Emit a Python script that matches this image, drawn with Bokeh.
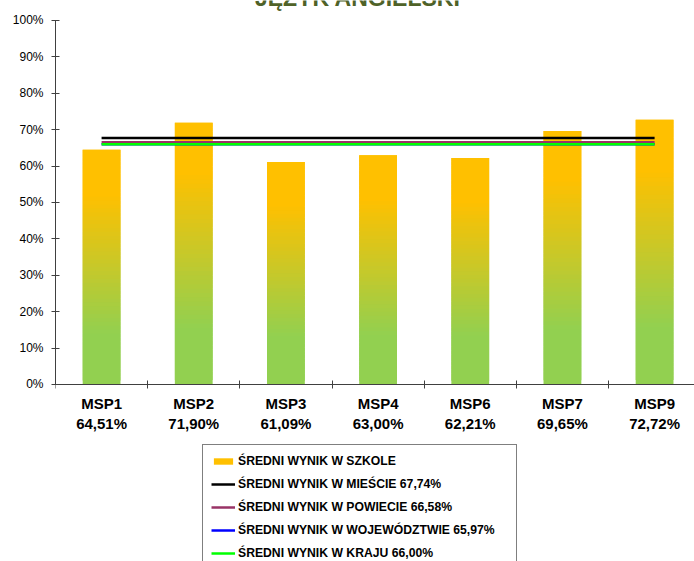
import numpy as np
from bokeh.plotting import figure
from bokeh.models import Range1d, FixedTicker, LinearAxis, Legend, LegendItem, Label, ColumnDataSource
from bokeh.embed import file_html
from bokeh.resources import INLINE

# ---------------- data ----------------
title_text = "JĘZYK ANGIELSKI"
categories = ["MSP1", "MSP2", "MSP3", "MSP4", "MSP6", "MSP7", "MSP9"]
school_scores = [64.51, 71.90, 61.09, 63.00, 62.21, 69.65, 72.72]
bar_legend_label = "ŚREDNI WYNIK W SZKOLE"
avg_names = ["ŚREDNI WYNIK W MIEŚCIE", "ŚREDNI WYNIK W POWIECIE",
             "ŚREDNI WYNIK W WOJEWÓDZTWIE", "ŚREDNI WYNIK W KRAJU"]
avg_values = [67.74, 66.58, 65.97, 66.00]
avg_colors = ["#000000", "#993366", "#0000FF", "#00FF00"]
y_ticks = [0, 10, 20, 30, 40, 50, 60, 70, 80, 90, 100]
y_tick_labels = ["0%", "10%", "20%", "30%", "40%", "50%", "60%", "70%", "80%", "90%", "100%"]

def pct(v):
    return f"{v:.2f}%".replace(".", ",")

x_centers = [i + 0.5 for i in range(len(categories))]
x_bounds = list(range(len(categories) + 1))
x_labels = {c: f"{cat}\n{pct(v)}" for c, cat, v in zip(x_centers, categories, school_scores)}

FONT = "Liberation Sans"
AXIS_COLOR = "#404040"

# ---------------- gradient bar segments ----------------
ORANGE = np.array([255, 192, 0], dtype=float)
GREEN = np.array([146, 208, 80], dtype=float)
N = 60
seg_x, seg_b, seg_t, seg_c = [], [], [], []
for xc, v in zip(x_centers, school_scores):
    edges = np.linspace(0.0, v, N + 1)
    step = edges[1] - edges[0]
    for j in range(N):
        f = (j + 0.5) / N
        t = min(max((f - 0.215) / (0.81 - 0.215), 0.0), 1.0)
        c = GREEN + (ORANGE - GREEN) * t
        seg_x.append(xc)
        seg_b.append(edges[j])
        seg_t.append(edges[j + 1] + (step if j < N - 1 else 0.0))
        seg_c.append("#%02x%02x%02x" % tuple(int(round(k)) for k in c))
bars_src = ColumnDataSource(dict(x=seg_x, bottom=seg_b, top=seg_t, color=seg_c))

# ---------------- figure ----------------
# frame spans the whole canvas height; 0 % sits at 384 px, 100 % at 20 px
p = figure(width=694, height=561, output_backend="svg", toolbar_location=None,
           x_range=Range1d(0, 6.933), y_range=Range1d(-48.63, 105.49),
           x_axis_type=None, y_axis_type=None,
           min_border_left=55, min_border_right=0, min_border_top=0, min_border_bottom=0)
p.outline_line_color = None
p.background_fill_color = "white"
p.border_fill_color = "white"
p.styles = {"margin": "0px"}

r_bars = p.vbar(x="x", bottom="bottom", top="top", width=0.41, source=bars_src,
                fill_color="color", line_color=None)

line_renderers = []
for v, col in zip(avg_values, avg_colors):
    r = p.line(x=[x_centers[0], x_centers[-1]], y=[v, v], line_color=col, line_width=2.5)
    line_renderers.append(r)

# axes
yaxis = LinearAxis(ticker=FixedTicker(ticks=y_ticks, minor_ticks=[]),
                   bounds=(y_ticks[0], y_ticks[-1]),
                   major_label_overrides={t: l for t, l in zip(y_ticks, y_tick_labels)},
                   major_tick_in=4, major_tick_out=4,
                   minor_tick_line_color=None,
                   axis_line_color=AXIS_COLOR, major_tick_line_color=AXIS_COLOR,
                   major_label_text_font=FONT, major_label_text_font_size="12px",
                   major_label_text_color="black", major_label_standoff=8)
p.add_layout(yaxis, "left")

xaxis = LinearAxis(ticker=FixedTicker(ticks=x_centers, minor_ticks=x_bounds),
                   fixed_location=y_ticks[0],
                   major_label_overrides=x_labels,
                   major_tick_in=0, major_tick_out=0,
                   minor_tick_in=4, minor_tick_out=4,
                   axis_line_color=AXIS_COLOR, minor_tick_line_color=AXIS_COLOR,
                   major_tick_line_color=None,
                   major_label_text_font=FONT, major_label_text_font_size="15px",
                   major_label_text_font_style="bold", major_label_text_color="black",
                   major_label_text_line_height=1.13, major_label_standoff=7)
p.add_layout(xaxis, "below")

# title (partly cut at the top edge, as in the reference)
p.add_layout(Label(x=3.28, y=106.1, text=title_text, text_align="center",
                   text_baseline="alphabetic", text_font=FONT, text_font_size="23px",
                   text_font_style="bold", text_color="#4F6228"))

# legend
items = [LegendItem(label=bar_legend_label, renderers=[r_bars], index=N - 1)]
for name, v, r in zip(avg_names, avg_values, line_renderers):
    items.append(LegendItem(label=f"{name} {pct(v)}", renderers=[r]))

legend = Legend(items=items, location=(147, -9), padding=8, spacing=7,
                label_height=16, glyph_height=8, glyph_width=24, label_standoff=3,
                label_width=270, margin=0,
                border_line_color="black", border_line_width=1,
                background_fill_color="white", background_fill_alpha=1.0,
                label_text_font=FONT, label_text_font_style="bold",
                label_text_font_size="12.2px", label_text_color="black")
p.add_layout(legend)

open("out.html", "w").write(file_html(p, INLINE))
